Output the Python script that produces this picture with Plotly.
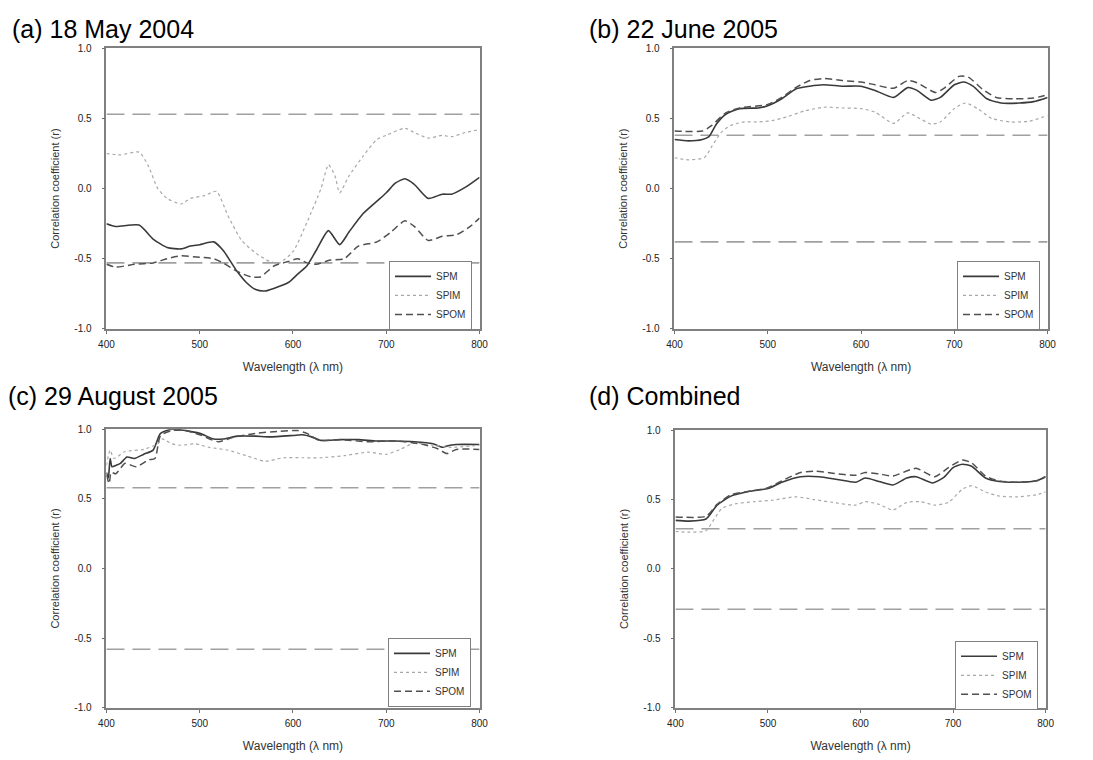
import plotly.graph_objects as go

# ---------------- data ----------------
# Panel (a) 18 May 2004
a_spm_x = [400, 410, 435, 450, 465, 480, 490, 500, 515, 525, 540, 550, 560, 570, 580, 595, 605, 615, 625, 638, 650, 660, 675, 690, 700, 710, 720, 730, 745, 760, 770, 785, 800]
a_spm_y = [-0.25, -0.27, -0.26, -0.36, -0.42, -0.43, -0.41, -0.40, -0.38, -0.44, -0.59, -0.67, -0.72, -0.73, -0.71, -0.67, -0.61, -0.55, -0.44, -0.30, -0.40, -0.31, -0.18, -0.09, -0.03, 0.04, 0.07, 0.03, -0.07, -0.04, -0.04, 0.01, 0.08]
a_spim_x = [400, 415, 435, 445, 455, 465, 480, 490, 505, 518, 530, 545, 560, 575, 585, 600, 615, 630, 638, 645, 650, 660, 675, 690, 700, 720, 730, 745, 760, 770, 785, 800]
a_spim_y = [0.25, 0.24, 0.26, 0.16, 0.00, -0.07, -0.11, -0.07, -0.05, -0.02, -0.19, -0.37, -0.46, -0.52, -0.53, -0.45, -0.24, 0.00, 0.17, 0.09, -0.03, 0.09, 0.23, 0.35, 0.38, 0.43, 0.40, 0.36, 0.38, 0.37, 0.40, 0.42]
a_spom_x = [400, 410, 430, 450, 465, 480, 500, 515, 525, 540, 555, 565, 580, 595, 605, 615, 625, 640, 655, 670, 690, 705, 720, 730, 745, 760, 775, 790, 800]
a_spom_y = [-0.54, -0.56, -0.54, -0.53, -0.50, -0.48, -0.49, -0.50, -0.53, -0.59, -0.63, -0.63, -0.55, -0.52, -0.50, -0.53, -0.54, -0.51, -0.50, -0.41, -0.38, -0.31, -0.23, -0.27, -0.37, -0.34, -0.33, -0.27, -0.21]

# Panel (b) 22 June 2005
b_spm_x = [400, 415, 430, 437, 445, 455, 470, 490, 500, 515, 530, 545, 560, 580, 600, 615, 635, 650, 660, 675, 685, 700, 710, 720, 735, 750, 770, 785, 800]
b_spm_y = [0.35, 0.34, 0.35, 0.37, 0.46, 0.53, 0.57, 0.575, 0.59, 0.64, 0.71, 0.73, 0.74, 0.73, 0.73, 0.70, 0.65, 0.72, 0.70, 0.63, 0.65, 0.74, 0.76, 0.73, 0.64, 0.61, 0.61, 0.62, 0.65]
b_spim_x = [400, 415, 432, 440, 450, 460, 475, 490, 505, 520, 540, 560, 580, 600, 615, 635, 650, 660, 675, 685, 700, 712, 725, 740, 760, 780, 800]
b_spim_y = [0.22, 0.205, 0.22, 0.30, 0.40, 0.45, 0.475, 0.475, 0.485, 0.51, 0.555, 0.58, 0.575, 0.57, 0.545, 0.465, 0.54, 0.51, 0.46, 0.475, 0.57, 0.61, 0.57, 0.50, 0.475, 0.48, 0.52]
b_spom_x = [400, 430, 440, 455, 470, 500, 515, 530, 545, 560, 580, 600, 615, 635, 650, 660, 680, 690, 705, 715, 730, 745, 765, 785, 800]
b_spom_y = [0.41, 0.41, 0.45, 0.54, 0.575, 0.60, 0.65, 0.72, 0.77, 0.785, 0.77, 0.76, 0.74, 0.715, 0.77, 0.755, 0.685, 0.72, 0.80, 0.795, 0.71, 0.65, 0.64, 0.645, 0.67]

# Panel (c) 29 August 2005
c_spm_x = [400, 402, 404, 406, 410, 415, 422, 430, 440, 450, 458, 470, 485, 500, 515, 525, 540, 560, 575, 600, 610, 620, 630, 650, 670, 690, 710, 730, 750, 760, 765, 775, 800]
c_spm_y = [0.69, 0.65, 0.79, 0.73, 0.74, 0.755, 0.80, 0.79, 0.82, 0.85, 0.97, 1.00, 0.99, 0.97, 0.93, 0.93, 0.95, 0.95, 0.945, 0.955, 0.96, 0.945, 0.92, 0.925, 0.925, 0.915, 0.915, 0.91, 0.895, 0.87, 0.88, 0.89, 0.89]
c_spim_x = [400, 404, 408, 420, 440, 455, 460, 470, 480, 495, 510, 530, 550, 570, 590, 610, 630, 655, 680, 700, 715, 730, 750, 770, 800]
c_spim_y = [0.74, 0.85, 0.79, 0.84, 0.855, 0.895, 0.93, 0.895, 0.885, 0.895, 0.87, 0.85, 0.81, 0.77, 0.795, 0.795, 0.795, 0.81, 0.835, 0.82, 0.855, 0.90, 0.885, 0.87, 0.885]
c_spom_x = [400, 403, 405, 410, 420, 432, 445, 452, 458, 470, 485, 500, 520, 535, 560, 585, 605, 615, 628, 650, 680, 710, 740, 755, 765, 775, 800]
c_spom_y = [0.67, 0.61, 0.69, 0.68, 0.755, 0.73, 0.78, 0.79, 0.955, 0.99, 0.99, 0.96, 0.91, 0.94, 0.97, 0.985, 0.99, 0.97, 0.92, 0.925, 0.91, 0.915, 0.89, 0.86, 0.825, 0.855, 0.855]

# Panel (d) Combined
d_spm_x = [400, 415, 433, 445, 460, 480, 500, 515, 535, 555, 575, 595, 605, 620, 635, 650, 660, 678, 690, 700, 710, 720, 735, 750, 770, 790, 800]
d_spm_y = [0.35, 0.345, 0.36, 0.46, 0.525, 0.56, 0.58, 0.625, 0.665, 0.665, 0.645, 0.625, 0.655, 0.63, 0.605, 0.655, 0.665, 0.62, 0.66, 0.73, 0.755, 0.74, 0.655, 0.63, 0.625, 0.635, 0.665]
d_spim_x = [400, 415, 433, 440, 450, 465, 485, 505, 530, 550, 570, 595, 605, 620, 635, 650, 665, 680, 695, 710, 720, 735, 750, 770, 790, 800]
d_spim_y = [0.27, 0.265, 0.275, 0.34, 0.435, 0.47, 0.485, 0.495, 0.52, 0.50, 0.48, 0.46, 0.485, 0.465, 0.425, 0.48, 0.485, 0.46, 0.48, 0.575, 0.60, 0.555, 0.525, 0.52, 0.535, 0.555]
d_spom_x = [400, 433, 445, 460, 480, 500, 515, 535, 550, 570, 595, 605, 620, 635, 660, 680, 695, 710, 720, 735, 750, 770, 790, 800]
d_spom_y = [0.375, 0.38, 0.465, 0.535, 0.56, 0.585, 0.635, 0.695, 0.705, 0.69, 0.675, 0.695, 0.685, 0.67, 0.725, 0.665, 0.73, 0.785, 0.765, 0.67, 0.635, 0.625, 0.635, 0.665]

# significance thresholds (+/-)
thresholds = [0.53, 0.38, 0.58, 0.29]
panel_titles = ["(a) 18 May 2004", "(b) 22 June 2005", "(c) 29 August 2005", "(d) Combined"]
series_names = ["SPM", "SPIM", "SPOM"]
x_ticks = [400, 500, 600, 700, 800]
y_ticks = [-1.0, -0.5, 0.0, 0.5, 1.0]

panels = [
    [(a_spm_x, a_spm_y), (a_spim_x, a_spim_y), (a_spom_x, a_spom_y)],
    [(b_spm_x, b_spm_y), (b_spim_x, b_spim_y), (b_spom_x, b_spom_y)],
    [(c_spm_x, c_spm_y), (c_spim_x, c_spim_y), (c_spom_x, c_spom_y)],
    [(d_spm_x, d_spm_y), (d_spim_x, d_spim_y), (d_spom_x, d_spom_y)],
]

# ---------------- layout geometry ----------------
W, H = 1093, 760
boxes = [  # left, right, top, bottom in pixels
    (100, 479, 43, 328),
    (677, 1056, 43, 328),
    (100, 479, 430, 713),
    (678, 1054, 431, 713),
]
legend_pos = [(387, 259), (964, 259), (386, 642), (962, 645)]
title_pos = [(2, 23), (588, 23), (-2, 396), (588, 396)]

styles = [
    dict(color="#3a3a3a", width=1.6, dash="solid"),
    dict(color="#a8a8a8", width=1.2, dash="dot"),
    dict(color="#505050", width=1.5, dash="7px,4px"),
]

fig = go.Figure()
layout = dict(
    width=W, height=H, margin=dict(l=0, r=0, t=0, b=0),
    paper_bgcolor="white", plot_bgcolor="white",
    font=dict(family="Liberation Sans, Arial, sans-serif", color="#333"),
    showlegend=True,
)
annotations = []

for i in range(4):
    l, r, t, b = boxes[i]
    sfx = "" if i == 0 else str(i + 1)
    xa, ya = "x" + sfx, "y" + sfx
    leg = "legend" if i == 0 else "legend" + str(i + 1)
    thr = thresholds[i]
    for s in (thr, -thr):
        fig.add_trace(go.Scatter(
            x=[x_ticks[0], x_ticks[-1]], y=[s, s], mode="lines",
            line=dict(color="#a0a0a0", width=1.6, dash="18px,8px"),
            showlegend=False, hoverinfo="skip", xaxis=xa, yaxis=ya))
    for j, (xs, ys) in enumerate(panels[i]):
        fig.add_trace(go.Scatter(
            x=xs, y=ys, mode="lines", name=series_names[j],
            line=dict(shape="spline", smoothing=0.6, **styles[j]),
            xaxis=xa, yaxis=ya, legend=leg))
    axis_common = dict(
        showline=True, linecolor="#808080", linewidth=1.8, mirror=True,
        ticks="outside", ticklen=3, tickwidth=1, tickcolor="#707070",
        showgrid=False, zeroline=False,
        tickfont=dict(size=10, color="#222"),
    )
    layout["xaxis" + sfx] = dict(
        domain=[l / W, r / W], anchor=ya, range=[400, 800],
        tickvals=x_ticks, ticktext=[str(v) for v in x_ticks],
        ticklabelstandoff=2,
        title=dict(text="Wavelength (λ nm)", font=dict(size=12, color="#333"), standoff=14),
        **axis_common)
    layout["yaxis" + sfx] = dict(
        domain=[1 - b / H, 1 - t / H], anchor=xa, range=[-1, 1],
        tickvals=y_ticks, ticktext=[f"{v:.1f}" for v in y_ticks],
        ticklabelstandoff=8,
        title=dict(text="Correlation coefficient (r)", font=dict(size=11, color="#333"), standoff=12),
        **axis_common)
    lx, ly = legend_pos[i]
    layout[leg] = dict(
        x=lx / W, y=1 - ly / H, xanchor="left", yanchor="top",
        bordercolor="#808080", borderwidth=1, bgcolor="white",
        font=dict(size=10, color="#333"), tracegroupgap=0, itemwidth=36)
    tx, ty = title_pos[i]
    annotations.append(dict(
        text=panel_titles[i], x=tx / W, y=1 - ty / H, xref="paper", yref="paper",
        xanchor="left", yanchor="middle", showarrow=False,
        font=dict(size=25, color="black", family="Liberation Sans, Arial, sans-serif")))

layout["annotations"] = annotations
fig.update_layout(**layout)
fig.write_html("out.html")
